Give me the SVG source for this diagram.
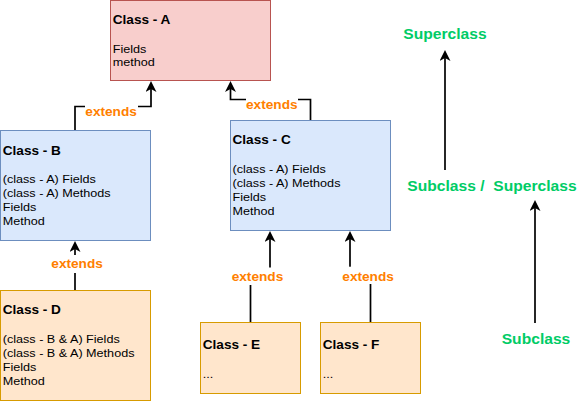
<svg xmlns="http://www.w3.org/2000/svg" width="578" height="401" viewBox="0 0 578 401">
<style>
.t{font-family:"Liberation Sans",Arial,sans-serif;fill:#000}
.title{font-weight:bold;font-size:12.5px}
.body{font-size:11.5px}
.ext{font-family:"Liberation Sans",Arial,sans-serif;font-weight:bold;font-size:12.5px;fill:#ff8000}
.green{font-family:"Liberation Sans",Arial,sans-serif;font-weight:bold;font-size:14.5px;fill:#00cc66}
.edge{fill:none;stroke:#000;stroke-width:1.7}
.lbg{fill:#fff;stroke:none}
.red{fill:#f8cecc;stroke:#b85450}
.blue{fill:#dae8fc;stroke:#6c8ebf}
.orange{fill:#ffe6cc;stroke:#d79b00}
</style>
<defs>
<marker id="arr" markerUnits="userSpaceOnUse" markerWidth="12" markerHeight="11" refX="3" refY="5.5" orient="auto">
<path d="M11,5.5 L0,0 L3,5.5 L0,11 Z" fill="#000"/>
</marker>
</defs>
<rect width="578" height="401" fill="#fff"/>

<g id="classA">
<rect class="red" x="110.5" y="0.5" width="160" height="80"/>
<text class="t title" transform="matrix(1.09,0,0,1,112.7,24)">Class - A</text>
<text class="t body" transform="matrix(1.098,0,0,1,112.7,52.5)"><tspan x="0" y="0">Fields</tspan><tspan x="0" y="13.8">method</tspan></text>
</g>

<g id="classB">
<rect class="blue" x="0.5" y="130.5" width="150" height="110"/>
<text class="t title" transform="matrix(1.09,0,0,1,2.7,154.5)">Class - B</text>
<text class="t body" transform="matrix(1.098,0,0,1,2.7,182.7)"><tspan x="0" y="0">(class - A) Fields</tspan><tspan x="0" y="14.2">(class - A) Methods</tspan><tspan x="0" y="28.4">Fields</tspan><tspan x="0" y="42.6">Method</tspan></text>
</g>

<g id="classC">
<rect class="blue" x="230.5" y="120.5" width="160" height="110"/>
<text class="t title" transform="matrix(1.09,0,0,1,232.5,143.8)">Class - C</text>
<text class="t body" transform="matrix(1.098,0,0,1,232.5,172.7)"><tspan x="0" y="0">(class - A) Fields</tspan><tspan x="0" y="14.2">(class - A) Methods</tspan><tspan x="0" y="28.4">Fields</tspan><tspan x="0" y="42.6">Method</tspan></text>
</g>

<g id="classD">
<rect class="orange" x="0.5" y="290.5" width="150" height="110"/>
<text class="t title" transform="matrix(1.09,0,0,1,2.7,314)">Class - D</text>
<text class="t body" transform="matrix(1.098,0,0,1,2.7,342.5)"><tspan x="0" y="0">(class - B &amp; A) Fields</tspan><tspan x="0" y="14.2">(class - B &amp; A) Methods</tspan><tspan x="0" y="28.4">Fields</tspan><tspan x="0" y="42.6">Method</tspan></text>
</g>

<g id="classE">
<rect class="orange" x="200.5" y="322.5" width="100" height="71"/>
<text class="t title" transform="matrix(1.09,0,0,1,202.7,349)">Class - E</text>
<text class="t body" transform="matrix(1.098,0,0,1,202.7,378)">...</text>
</g>

<g id="classF">
<rect class="orange" x="320.5" y="322.5" width="100" height="71"/>
<text class="t title" transform="matrix(1.09,0,0,1,322.7,349)">Class - F</text>
<text class="t body" transform="matrix(1.098,0,0,1,322.7,378)">...</text>
</g>

<g id="connectors">
<path class="edge" d="M75,130 V106.5 H151 V89" marker-end="url(#arr)"/>
<path class="edge" d="M310.5,120 V99.5 H230.5 V89" marker-end="url(#arr)"/>
<path class="edge" d="M75,290 V249" marker-end="url(#arr)"/>
<path class="edge" d="M250.5,322 V276 H270 V239" marker-end="url(#arr)"/>
<path class="edge" d="M370.5,322 V276 H350 V239" marker-end="url(#arr)"/>
<path class="edge" d="M445,170 V58" marker-end="url(#arr)"/>
<path class="edge" d="M535,323 V208" marker-end="url(#arr)"/>
</g>

<g id="edge-labels">
<rect class="lbg" x="85" y="104" width="53" height="16"/>
<text class="ext" transform="matrix(1.092,0,0,1,85.3,115.5)">extends</text>
<rect class="lbg" x="246" y="97" width="52" height="15"/>
<text class="ext" transform="matrix(1.092,0,0,1,246,109)">extends</text>
<rect class="lbg" x="51" y="255" width="53" height="18"/>
<text class="ext" transform="matrix(1.092,0,0,1,51.3,268)">extends</text>
<rect class="lbg" x="231" y="267.5" width="53" height="17.5"/>
<text class="ext" transform="matrix(1.092,0,0,1,231.7,281.3)">extends</text>
<rect class="lbg" x="342" y="266.7" width="53" height="17.3"/>
<text class="ext" transform="matrix(1.092,0,0,1,342.3,280.5)">extends</text>
</g>

<g id="legend">
<text class="green" transform="matrix(1.078,0,0,1,403.3,39)">Superclass</text>
<text class="green" transform="matrix(1.078,0,0,1,407.3,190.5)" xml:space="preserve">Subclass /  Superclass</text>
<text class="green" transform="matrix(1.078,0,0,1,501.7,343.5)">Subclass</text>
</g>
</svg>
